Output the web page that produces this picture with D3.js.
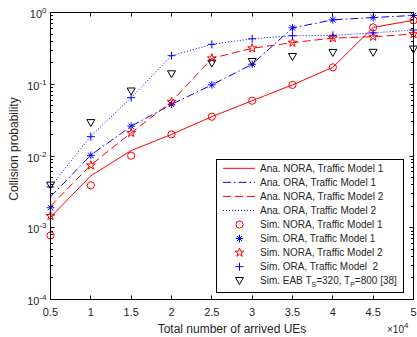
<!DOCTYPE html>
<html>
<head>
<meta charset="utf-8">
<script src="https://cdn.jsdelivr.net/npm/d3@7"></script>
<style>
  html, body { margin: 0; padding: 0; background: #fff; }
  svg { display: block; font-family: "Liberation Sans", Arial, sans-serif; }
</style>
</head>
<body>
<svg id="chart" width="417" height="337"></svg>
<script>
// Number of arrived UEs (x 10^4)
const arrivedUEs = [0.5, 1, 1.5, 2, 2.5, 3, 3.5, 4, 4.5, 5];

// Analytical curves
const anaNoraTM1 = [0.0014, 0.0053, 0.0119, 0.020, 0.0353, 0.059, 0.098, 0.172, 0.62, 0.78];
const anaOraTM1  = [0.0027, 0.0103, 0.026, 0.0525, 0.098, 0.19, 0.61, 0.79, 0.85, 0.91];
const anaNoraTM2 = [0.0020, 0.0075, 0.021, 0.057, 0.23, 0.317, 0.38, 0.44, 0.46, 0.50];
const anaOraTM2  = [0.0037, 0.019, 0.065, 0.25, 0.36, 0.43, 0.475, 0.48, 0.52, 0.57];

// Simulation results
const simNoraTM1 = [0.00078, 0.0039, 0.0101, 0.020, 0.0353, 0.059, 0.098, 0.172, 0.62, 0.78];
const simOraTM1  = [0.0019, 0.0102, 0.026, 0.0525, 0.098, 0.19, 0.61, 0.79, 0.85, 0.91];
const simNoraTM2 = [0.00146, 0.0074, 0.021, 0.057, 0.23, 0.317, 0.38, 0.44, 0.46, 0.50];
const simOraTM2  = [0.0037, 0.0186, 0.065, 0.25, 0.36, 0.43, 0.475, 0.48, 0.52, 0.57];
const simEAB     = [0.0039, 0.029, 0.08, 0.139, 0.196, 0.206, 0.242, 0.275, 0.277, 0.307];

// Axis ticks
const xTicks = [0.5, 1, 1.5, 2, 2.5, 3, 3.5, 4, 4.5, 5];
const xTickLabels = ["0.5", "1", "1.5", "2", "2.5", "3", "3.5", "4", "4.5", "5"];
const yTicks = [1e-4, 1e-3, 1e-2, 1e-1, 1];
const yTickExponents = ["-4", "-3", "-2", "-1", "0"];

const legendLabels = [
  "Ana. NORA, Traffic Model 1",
  "Ana. ORA, Traffic Model 1",
  "Ana. NORA, Traffic Model 2",
  "Ana. ORA, Traffic Model 2",
  "Sim. NORA, Traffic Model 1",
  "Sim. ORA, Traffic Model 1",
  "Sim. NORA, Traffic Model 2",
  "Sim. ORA, Traffic Model  2",
  "Sim. EAB T_S=320, T_P=800 [38]"
];

const RED = "#ff0000", BLUE = "#0000ff", BLACK = "#000000";
const TEXT = "#262626";

const svg = d3.select("#chart");
const plotLeft = 50.5, plotRight = 413.5, plotTop = 12.5, plotBottom = 299.5;

const x = d3.scaleLinear().domain([0.5, 5]).range([plotLeft, plotRight]);
const y = d3.scaleLog().domain([1e-4, 1]).range([plotBottom, plotTop]);

// Marker shapes
const markerPath = {
  circle: () => d3.symbol().type(d3.symbolCircle).size(Math.PI * 3.6 * 3.6)(),
  star: () => d3.symbol().type(d3.symbolStar).size(24)(),
  plus: () => "M-4,0H4M0,-4V4",
  asterisk: () => "M-3.8,0H3.8M0,-3.8V3.8M-2.7,-2.7L2.7,2.7M-2.7,2.7L2.7,-2.7",
  triangleDown: () => "M-4,-3.2L4,-3.2L0,3.8Z"
};

const lines = [
  { data: anaNoraTM1, color: RED,  dash: null },
  { data: anaOraTM1,  color: BLUE, dash: "8,3,1.5,3" },
  { data: anaNoraTM2, color: RED,  dash: "8,4" },
  { data: anaOraTM2,  color: BLUE, dash: "1,2" }
];
const markers = [
  { data: simNoraTM1, color: RED,   shape: "circle" },
  { data: simOraTM1,  color: BLUE,  shape: "asterisk" },
  { data: simNoraTM2, color: RED,   shape: "star" },
  { data: simOraTM2,  color: BLUE,  shape: "plus" },
  { data: simEAB,     color: BLACK, shape: "triangleDown" }
];

// Axes ticks (inside, on all four sides)
const tickG = svg.append("g").attr("stroke", BLACK).attr("stroke-width", 1);
xTicks.forEach(v => {
  const px = Math.round(x(v) - 0.5) + 0.5;
  tickG.append("line").attr("x1", px).attr("x2", px).attr("y1", plotBottom).attr("y2", plotBottom - 4);
  tickG.append("line").attr("x1", px).attr("x2", px).attr("y1", plotTop).attr("y2", plotTop + 4);
});
for (let e = -4; e <= 0; e++) {
  for (let m = 1; m <= 9; m++) {
    const v = m * Math.pow(10, e);
    if (v > 1) break;
    const py = Math.round(y(v) - 0.5) + 0.5;
    const len = m === 1 ? 4 : 2.5;
    tickG.append("line").attr("x1", plotLeft).attr("x2", plotLeft + len).attr("y1", py).attr("y2", py);
    tickG.append("line").attr("x1", plotRight).attr("x2", plotRight - len).attr("y1", py).attr("y2", py);
  }
}

// Tick labels
const xl = svg.append("g").attr("font-size", 11).attr("fill", TEXT).attr("text-anchor", "middle");
xTicks.forEach((v, i) => {
  xl.append("text").attr("x", x(v)).attr("y", 316).text(xTickLabels[i]);
});
const yl = svg.append("g").attr("font-size", 11).attr("fill", TEXT).attr("text-anchor", "end");
yTicks.forEach((v, i) => {
  const t = yl.append("text").attr("x", 46.5).attr("y", y(v) + 5.5);
  t.append("tspan").text("10");
  t.append("tspan").attr("dy", -5).attr("font-size", 8).text(yTickExponents[i]);
});

// Axis labels
svg.append("text").attr("x", 232).attr("y", 333).attr("text-anchor", "middle")
  .attr("font-size", 12).attr("fill", TEXT).text("Total number of arrived UEs");
svg.append("text").attr("transform", "translate(17.5,149) rotate(-90)")
  .attr("text-anchor", "middle").attr("font-size", 12).attr("fill", TEXT).text("Collision probability");
const mult = svg.append("text").attr("x", 387).attr("y", 333).attr("font-size", 10).attr("fill", TEXT);
mult.append("tspan").text("\u00d710");
mult.append("tspan").attr("dy", -5).attr("font-size", 8).text("4");

// Plot lines
const lineGen = d3.line().x((d, i) => x(arrivedUEs[i])).y(d => y(d));
const plotG = svg.append("g");
lines.forEach(s => {
  plotG.append("path").attr("d", lineGen(s.data)).attr("fill", "none")
    .attr("stroke", s.color).attr("stroke-width", 1)
    .attr("stroke-dasharray", s.dash);
});

// Markers
markers.forEach(s => {
  plotG.selectAll(null).data(s.data).enter().append("path")
    .attr("transform", (d, i) => `translate(${x(arrivedUEs[i])},${y(d)})`)
    .attr("d", markerPath[s.shape]())
    .attr("fill", "none").attr("stroke", s.color).attr("stroke-width", 1);
});

// Axes box
svg.append("rect").attr("x", plotLeft).attr("y", plotTop)
  .attr("width", plotRight - plotLeft).attr("height", plotBottom - plotTop)
  .attr("fill", "none").attr("stroke", BLACK).attr("stroke-width", 1);

// Legend
const lg = svg.append("g");
lg.append("rect").attr("x", 216.5).attr("y", 159.5).attr("width", 187).attr("height", 133)
  .attr("fill", "#fff").attr("stroke", BLACK).attr("stroke-width", 1);
const rowY = i => 168.3 + i * 14.05;
lines.forEach((s, i) => {
  lg.append("line").attr("x1", 223).attr("x2", 255).attr("y1", rowY(i)).attr("y2", rowY(i))
    .attr("stroke", s.color).attr("stroke-width", 1).attr("stroke-dasharray", s.dash);
});
markers.forEach((s, j) => {
  const i = j + lines.length;
  lg.append("path").attr("transform", `translate(239.5,${rowY(i)})`).attr("d", markerPath[s.shape]())
    .attr("fill", "none").attr("stroke", s.color).attr("stroke-width", 1);
});
legendLabels.forEach((lab, i) => {
  const t = lg.append("text").attr("x", 260).attr("y", rowY(i) + 3.6)
    .attr("font-size", 10).attr("fill", TEXT).attr("xml:space", "preserve");
  const parts = lab.split(/_(\w)/);
  parts.forEach((p, k) => {
    if (k % 2 === 1) {
      t.append("tspan").attr("dy", 3).attr("font-size", 7).text(p);
    } else if (k > 0) {
      t.append("tspan").attr("dy", -3).text(p);
    } else {
      t.append("tspan").text(p);
    }
  });
});
</script>
</body>
</html>
